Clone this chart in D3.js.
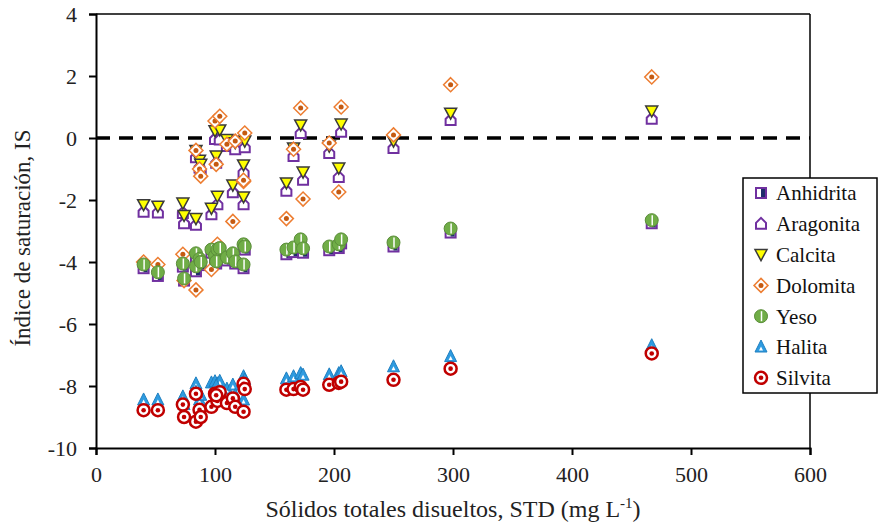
<!DOCTYPE html>
<html>
<head>
<meta charset="utf-8">
<script src="https://cdn.jsdelivr.net/npm/d3@7"></script>
<style>
  body { margin: 0; background: #fff; }
  text { font-family: "Liberation Serif", "Times New Roman", serif; }
</style>
</head>
<body>
<div id="chart"></div>
<script>
// STD (mg/L) for each water sample
var std = [40, 52, 73, 74, 84, 84, 87, 88, 97, 100, 102, 104, 101, 110, 115, 117, 124, 124, 125,
           160, 166, 172, 174, 196, 204, 206, 250, 298, 467];

// saturation index per mineral, same order as std
var anhidrita = [-4.2, -4.45, -4.15, -4.6, -3.85, -4.3, -4.0, -4.1, -3.7, -3.9, -3.7, -3.65, -4.05, -3.95, -3.85, -4.05, -3.55, -4.2, -3.6,
                 -3.75, -3.68, -3.42, -3.7, -3.62, -3.55, -3.4, -3.5, -3.05, -2.75];
var aragonita = [-2.38, -2.4, -2.42, -2.75, -2.8, -0.62, -0.95, -1.05, -2.46, -0.03, -2.14, -0.05, -0.8, -0.26, -1.75, -0.36, -2.14, -1.1, -0.3,
                 -1.7, -0.58, 0.16, -1.35, -0.48, -1.26, 0.2, -0.32, 0.58, 0.62];
var calcita = [-2.15, -2.2, -2.1, -2.5, -2.6, -0.4, -0.72, -0.85, -2.27, 0.23, -1.88, 0.26, -0.58, -0.05, -1.52, -0.15, -1.9, -0.87, -0.1,
               -1.45, -0.32, 0.42, -1.1, -0.26, -0.97, 0.45, -0.1, 0.8, 0.87];
var dolomita = [-4.0, -4.08, -3.75, -4.6, -4.9, -0.4, -1.0, -1.23, -4.24, 0.55, -3.43, 0.7, -0.85, -0.2, -2.69, -0.1, -1.4, -1.36, 0.16,
                -2.6, -0.36, 0.97, -1.97, -0.16, -1.74, 1.0, 0.1, 1.72, 1.97];
var yeso = [-4.08, -4.33, -4.05, -4.53, -3.72, -4.14, -3.9, -4.0, -3.6, -3.8, -3.6, -3.55, -3.98, -3.85, -3.72, -3.98, -3.43, -4.08, -3.5,
            -3.6, -3.53, -3.27, -3.56, -3.5, -3.43, -3.27, -3.37, -2.92, -2.65];
var halita = [-8.45, -8.45, -8.35, -8.6, -7.93, -8.2, -8.45, -8.3, -7.9, -7.86, -7.93, -7.85, -8.0, -8.1, -7.97, -8.3, -7.7, -8.45, -7.8,
              -7.77, -7.7, -7.6, -7.65, -7.64, -7.6, -7.54, -7.38, -7.05, -6.7];
var silvita = [-8.78, -8.78, -8.6, -9.0, -8.25, -9.15, -8.77, -9.0, -8.67, -8.25, -8.48, -8.2, -8.3, -8.55, -8.4, -8.67, -7.93, -8.83, -8.1,
               -8.12, -8.1, -8.03, -8.12, -7.96, -7.9, -7.86, -7.8, -7.44, -6.95];

var xTicks = [0, 100, 200, 300, 400, 500, 600];
var yTicks = [-10, -8, -6, -4, -2, 0, 2, 4];

var width = 879, height = 527;
var svg = d3.select("#chart").append("svg")
    .attr("width", width)
    .attr("height", height);

var x = d3.scaleLinear().domain([0, 600]).range([96, 810]);
var y = d3.scaleLinear().domain([-10, 4]).range([448, 14]);

// frame top and right
svg.append("line").attr("x1", x(0)).attr("x2", x(600)).attr("y1", y(4)).attr("y2", y(4))
    .attr("stroke", "#000").attr("stroke-width", 1.5);
svg.append("line").attr("x1", x(600)).attr("x2", x(600)).attr("y1", y(4)).attr("y2", y(-10))
    .attr("stroke", "#000").attr("stroke-width", 1.5);

// hyphen minus like the original, not the unicode minus
var plain = function(d) { return String(d); };

var gx = svg.append("g").attr("transform", "translate(0," + y(-10) + ")");
gx.call(d3.axisBottom(x).tickValues(d3.range(0, 601, 20)).tickSize(6).tickFormat(""));
gx.call(d3.axisBottom(x).tickValues(xTicks).tickSize(7).tickFormat(plain));
gx.selectAll("path.domain").attr("stroke-width", 2);
gx.selectAll("line").attr("stroke-width", 2);
gx.selectAll("text").attr("font-size", 22).attr("fill", "#222").attr("dy", "1.1em")
    .style("font-family", "Liberation Serif");

var gy = svg.append("g").attr("transform", "translate(" + x(0) + ",0)");
gy.call(d3.axisLeft(y).tickValues(d3.range(-10, 5, 1)).tickSize(5).tickFormat(""));
gy.call(d3.axisLeft(y).tickValues(yTicks).tickSize(7).tickFormat(plain));
gy.selectAll("path.domain").attr("stroke-width", 2);
gy.selectAll("line").attr("stroke-width", 2);
gy.selectAll("text").attr("font-size", 22).attr("fill", "#222").attr("x", -19).attr("dy", "0.35em")
    .style("font-family", "Liberation Serif");

// zero line
svg.append("line")
    .attr("x1", x(0)).attr("x2", x(600))
    .attr("y1", y(0)).attr("y2", y(0))
    .attr("stroke", "#000").attr("stroke-width", 3.5)
    .attr("stroke-dasharray", "14,9");

// axis titles
var xt = svg.append("text")
    .attr("x", 453).attr("y", 517)
    .attr("text-anchor", "middle")
    .attr("font-size", 24).attr("fill", "#222");
xt.append("tspan").text("Sólidos totales disueltos, STD (mg L");
xt.append("tspan").attr("font-size", 15).attr("dy", -9).text("-1");
xt.append("tspan").attr("dy", 9).text(")");

svg.append("text")
    .attr("transform", "translate(30,238) rotate(-90)")
    .attr("text-anchor", "middle")
    .attr("font-size", 23).attr("fill", "#222")
    .text("Índice de saturación, IS");

// marker drawers
var markers = {
    Anhidrita: function(g) {
        g.append("rect").attr("x", -5).attr("y", -5).attr("width", 10).attr("height", 10)
            .attr("fill", "#fff").attr("stroke", "#7030A0").attr("stroke-width", 2);
        g.append("rect").attr("x", 0).attr("y", -4).attr("width", 4).attr("height", 8)
            .attr("fill", "#1F2D6B");
    },
    Aragonita: function(g) {
        g.append("path").attr("d", "M-5,5L5,5L5,-1L0,-6L-5,-1Z")
            .attr("fill", "#fff").attr("stroke", "#7030A0").attr("stroke-width", 2);
    },
    Calcita: function(g) {
        g.append("path").attr("d", "M-6,-5L6,-5L0,6Z")
            .attr("fill", "#FFFF00").attr("stroke", "#3a3a3a").attr("stroke-width", 1.5);
    },
    Dolomita: function(g) {
        g.append("path").attr("d", "M0,-7L7,0L0,7L-7,0Z")
            .attr("fill", "#fff").attr("stroke", "#ED7D31").attr("stroke-width", 1.5);
        g.append("circle").attr("r", 2.5).attr("fill", "#C55A11");
    },
    Yeso: function(g) {
        g.append("circle").attr("r", 6.5).attr("fill", "#70AD47").attr("stroke", "#5B8E3A").attr("stroke-width", 1);
        g.append("line").attr("x1", 0.5).attr("x2", 0.5).attr("y1", -5).attr("y2", 5)
            .attr("stroke", "#fff").attr("stroke-width", 1.5);
    },
    Halita: function(g) {
        g.append("path").attr("d", "M-6,5L6,5L0,-7Z")
            .attr("fill", "#2E9BE0").attr("stroke", "#1F7FC0").attr("stroke-width", 1);
        g.append("path").attr("d", "M-2,3.5L2,3.5L0,-0.5Z").attr("fill", "#fff");
    },
    Silvita: function(g) {
        g.append("circle").attr("r", 6).attr("fill", "#fff").attr("stroke", "#C00000").attr("stroke-width", 2.5);
        g.append("circle").attr("r", 2.3).attr("fill", "#C00000");
    }
};

var series = [
    { name: "Anhidrita", values: anhidrita },
    { name: "Aragonita", values: aragonita },
    { name: "Calcita", values: calcita },
    { name: "Dolomita", values: dolomita },
    { name: "Yeso", values: yeso },
    { name: "Halita", values: halita },
    { name: "Silvita", values: silvita }
];

series.forEach(function(s) {
    var pts = svg.append("g").attr("class", "series")
        .selectAll("g")
        .data(s.values.map(function(v, i) { return { x: std[i], y: v }; }))
        .enter().append("g")
        .attr("transform", function(d) { return "translate(" + x(d.x) + "," + y(d.y) + ")"; });
    pts.each(function() { markers[s.name](d3.select(this)); });
});

// legend
var legend = svg.append("g");
legend.append("rect")
    .attr("x", 743).attr("y", 178).attr("width", 134).attr("height", 215)
    .attr("fill", "#fff").attr("stroke", "#000").attr("stroke-width", 1.5);

var item = legend.selectAll(".item")
    .data(series)
    .enter().append("g")
    .attr("class", "item")
    .attr("transform", function(d, i) { return "translate(761," + (193 + i * 30.8) + ")"; });
item.each(function(d) { markers[d.name](d3.select(this)); });
item.append("text")
    .attr("x", 15).attr("dy", "0.35em")
    .attr("font-size", 21).attr("fill", "#111")
    .text(function(d) { return d.name; });
</script>
</body>
</html>
